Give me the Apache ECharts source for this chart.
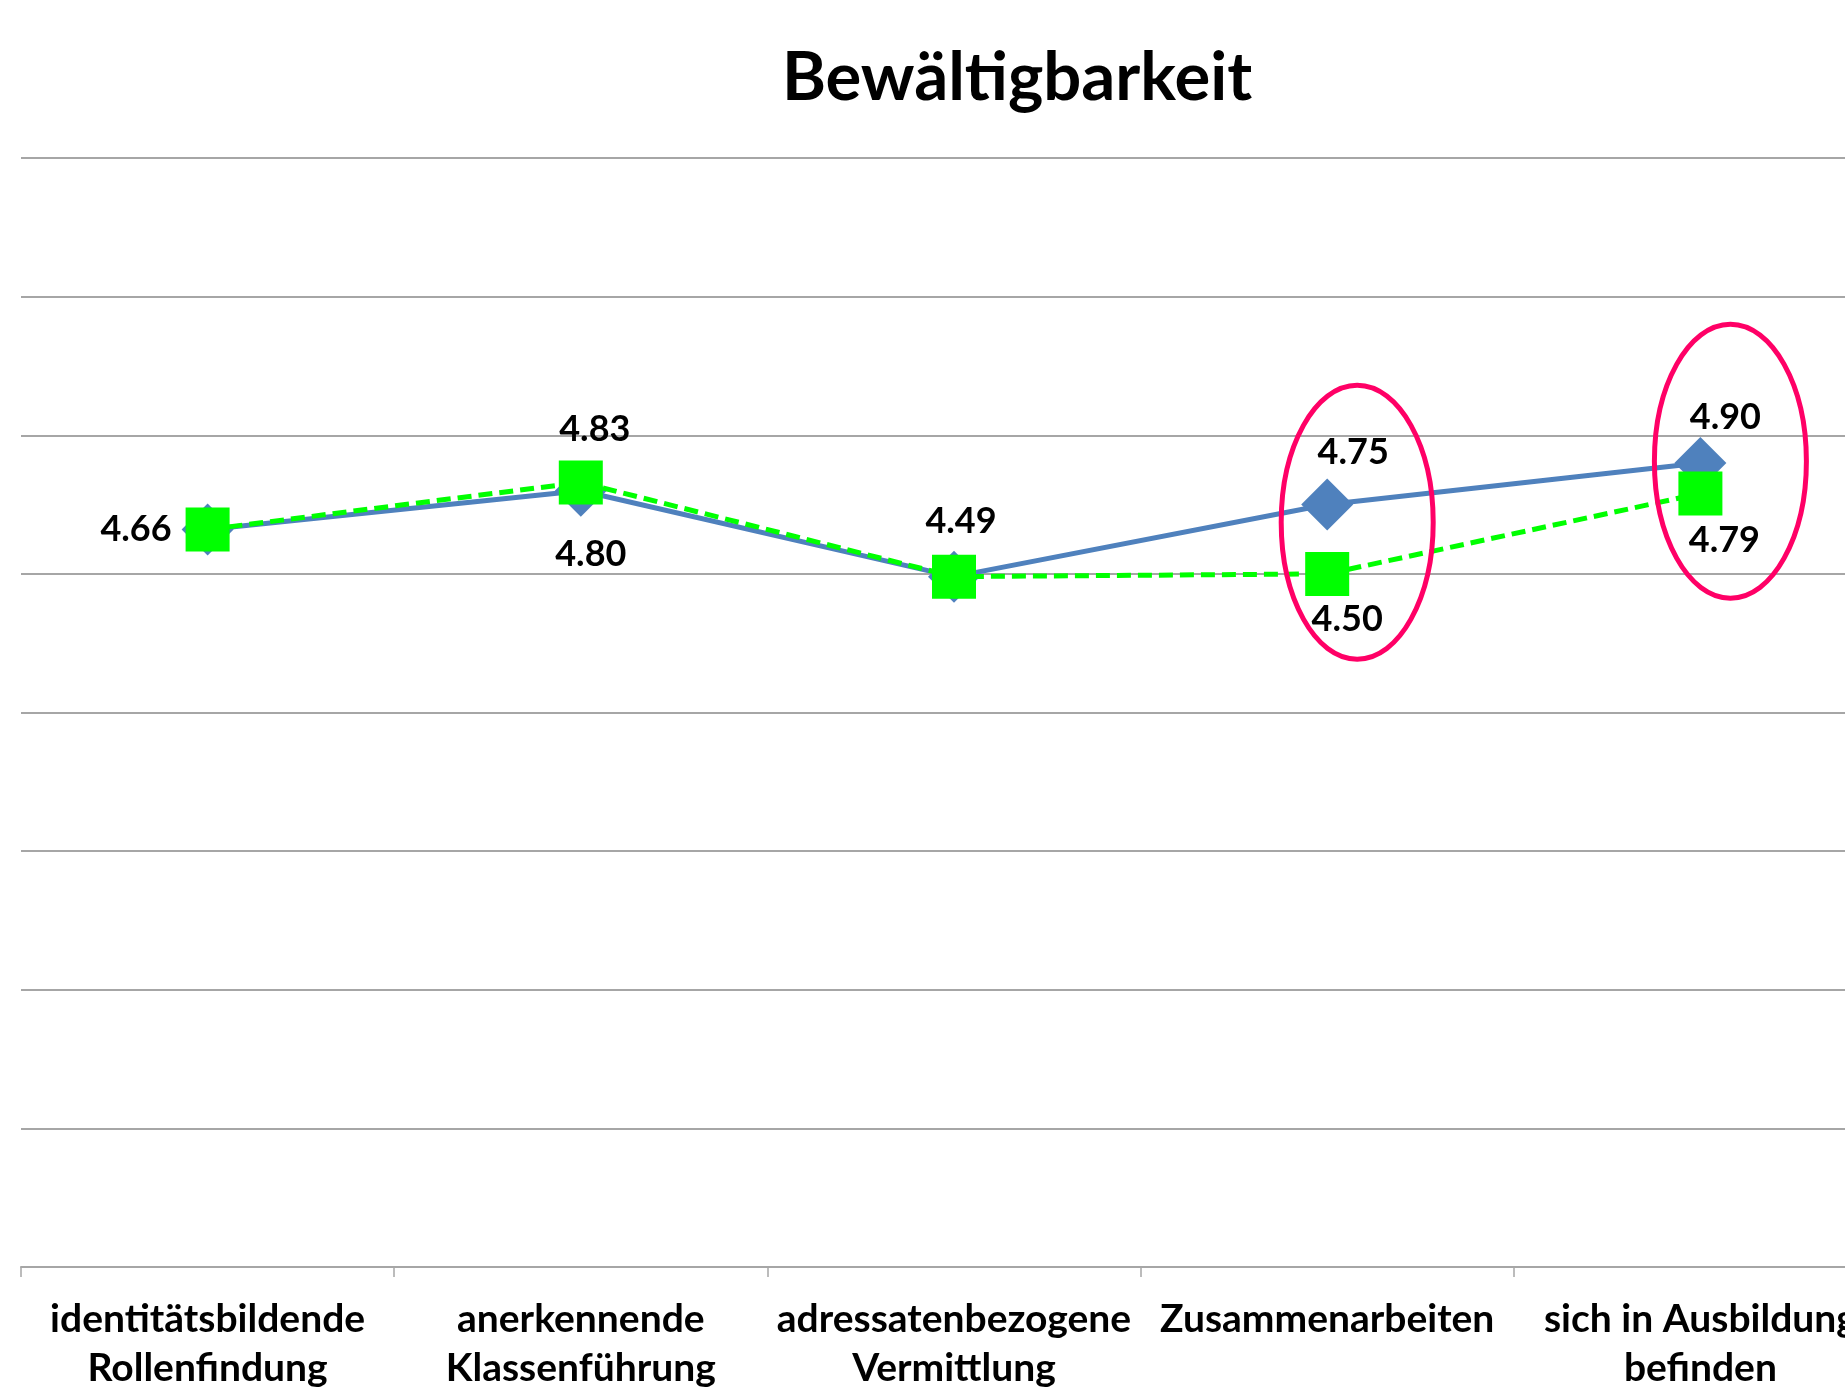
<!DOCTYPE html>
<html>
<head>
<meta charset="utf-8">
<title>Bewältigbarkeit</title>
<script src="https://cdn.jsdelivr.net/npm/echarts@6/dist/echarts.min.js"></script>
<style>
  html, body { margin: 0; padding: 0; background: #fff; overflow: hidden; }
  /* the original picture is cut off at the right edge, so the canvas is wider than the window */
  #chart { width: 1900px; height: 1394px; }
</style>
</head>
<body>
<div id="chart"></div>
<script>
// Kategorien und Werte
var categories = [
  'identitätsbildende\nRollenfindung',
  'anerkennende\nKlassenführung',
  'adressatenbezogene\nVermittlung',
  'Zusammenarbeiten',
  'sich in Ausbildung\nbefinden'
];
var blueValues = [4.66, 4.80, 4.49, 4.75, 4.90];
var greenValues = [4.66, 4.83, 4.49, 4.50, 4.79];
var yTicks = [2, 6, 0.5]; // min, max, interval
var circled = [3, 4];     // eingekreiste Kategorien

var FONT = 'Lato';
var chart = echarts.init(document.getElementById('chart'));

// Beschriftungen je Punkt: [position, distance, dx] oder null
var blueLabels = [null, ['bottom', 20, 10], null, ['top', 8, 26], ['top', 2, 25]];
var greenLabels = [['left', 14, 0], ['top', 13, 14], ['top', 15, 7], ['bottom', 6, 20], ['bottom', 7, 24]];

function buildData(values, labels) {
  return values.map(function(v, i) {
    var l = labels[i];
    return {
      value: v,
      label: l ? { show: true, position: l[0], distance: l[1], offset: [l[2], 0] } : { show: false }
    };
  });
}

var labelStyle = {
  fontFamily: FONT,
  fontWeight: 'bold',
  fontSize: 36,
  color: '#000',
  formatter: function(p) { return p.value.toFixed(2); }
};

chart.setOption({
  animation: false,
  backgroundColor: '#fff',
  title: {
    text: 'Bewältigbarkeit',
    left: 1012,
    top: 40,
    textAlign: 'center',
    textStyle: { fontFamily: FONT, fontWeight: 'bold', fontSize: 67, color: '#000' }
  },
  grid: { left: 21, top: 158, width: 1866, height: 1109 },
  xAxis: {
    type: 'category',
    data: categories,
    boundaryGap: true,
    axisLine: { lineStyle: { color: '#A6A6A6', width: 2 } },
    axisTick: { show: true, length: 10, lineStyle: { color: '#A6A6A6', width: 1.5 } },
    axisLabel: {
      interval: 0,
      margin: 28,
      fontFamily: FONT,
      fontWeight: 'bold',
      fontSize: 39,
      lineHeight: 49,
      color: '#000'
    }
  },
  yAxis: {
    type: 'value',
    min: yTicks[0],
    max: yTicks[1],
    interval: yTicks[2],
    axisLabel: { show: false },
    axisLine: { show: false },
    axisTick: { show: false },
    splitLine: { lineStyle: { color: '#A6A6A6', width: 2 } }
  },
  series: [
    {
      name: 'blau',
      type: 'line',
      data: buildData(blueValues, blueLabels),
      symbol: 'diamond',
      symbolSize: 52,
      lineStyle: { color: '#4F81BD', width: 5 },
      itemStyle: { color: '#4F81BD' },
      label: labelStyle,
      z: 2
    },
    {
      name: 'gruen',
      type: 'line',
      data: buildData(greenValues, greenLabels),
      symbol: 'rect',
      symbolSize: 44,
      lineStyle: { color: '#00FF00', width: 5, type: [14, 7] },
      itemStyle: { color: '#00FF00' },
      label: labelStyle,
      z: 3
    }
  ]
});

// rote Ellipsen um die markierten Kategorien
var ellipses = circled.map(function(i) {
  var p = chart.convertToPixel({ seriesIndex: 0 }, [i, (blueValues[i] + greenValues[i]) / 2]);
  return {
    type: 'ellipse',
    shape: { cx: p[0] + 30, cy: p[1] - 17, rx: 76, ry: 137 },
    style: { fill: null, stroke: '#FF0066', lineWidth: 5 },
    z: 10
  };
});
chart.setOption({ graphic: ellipses });
</script>
</body>
</html>
